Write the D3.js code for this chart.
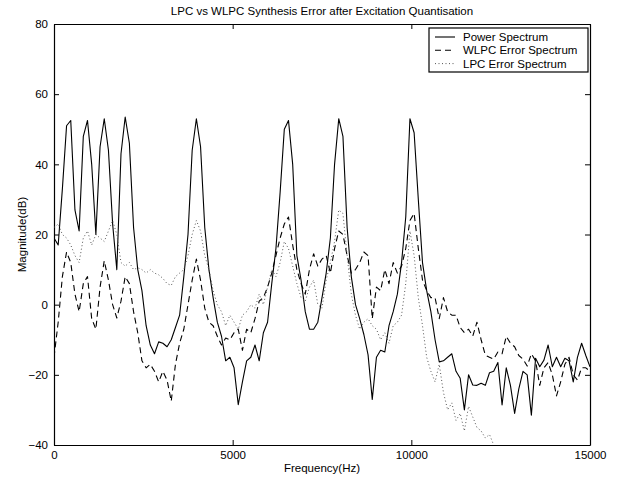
<!DOCTYPE html>
<html>
<head>
<meta charset="utf-8">
<script src="https://cdn.jsdelivr.net/npm/d3@7"></script>
<style>
  html, body { margin: 0; padding: 0; background: #fff; overflow: hidden; }
  svg { display: block; }
  text { font-family: "Liberation Sans", Arial, sans-serif; }
</style>
</head>
<body>
<div id="chart"></div>
<script>
// FFT bins, 0 .. 15000 Hz
const binCount = 129;
const freqStep = 15000 / 128;

// magnitudes in dB, one per bin
const powerSpectrum = [
  19, 17, 33, 51, 52.5, 27, 21, 48, 52.5, 40,
  20, 45, 53, 44, 23, 10, 43, 53.5, 46, 22,
  10, 4, -6, -11.5, -14, -10.6, -11, -12, -10, -6.5,
  -3, 8, 20, 44, 53, 45, 22, 10, 2, -5,
  -9, -16, -15, -18, -28.5, -22, -16, -15, -11.5, -16,
  -8, -5, 6, 16, 32, 50, 52.5, 40, 14, 7,
  -2, -7, -7, -5, 2, 9, 19, 40, 53, 48,
  22, 8, 0, -4, -8.5, -14.3, -27, -15, -13, -13.5,
  -6, -2, 3, 12, 25, 53, 49, 30, 12, 4,
  -2, -10, -16.3, -16, -15, -14, -19, -21, -30, -20,
  -22.9, -23, -22.4, -23, -19.4, -19, -16.5, -28.6, -18, -23,
  -31, -24, -19, -20, -31.5, -15.3, -17.7, -15.8, -11.5, -17.7,
  -15, -17.7, -15.3, -16, -22, -15, -11, -14.5, -17.7
];

const wlpcError = [
  -15, -5, 8, 15, 12, 3, -2, 6, 8, -4,
  -7, 5, 12.5, 7, 0, -3.8, 1, 8, 6, -2,
  -8, -16, -18, -17, -19, -22, -19, -21.5, -27.5, -17,
  -11, -7, 0, 7, 13, 7, -1, -5, -6, -9,
  -11.5, -9.5, -10, -8, -7, -13, -7, -8, -4, 1,
  2, 5, 9, 14, 19, 23, 25, 17, 10, 6,
  3, 10, 14.5, 11, 13, 14, 9, 16, 21, 20,
  14, 9, 10, 12, 15, 14, -4, 5, 4, 10,
  6, 12, 9, 11, 16, 24, 26, 16, 7, 4,
  2, 2, -4, 2, -2, -3, -3, -6.5, -8, -7,
  -9, -5, -10, -14.4, -15, -15.5, -13.5, -14, -9, -11,
  -12, -14.5, -15.5, -17.5, -14, -16, -23, -18, -16.5, -20,
  -26, -22, -17, -15, -20, -21.5, -18, -18, -19
];

// LPC error runs off the bottom of the axes after ~12.4 kHz
const lpcError = [
  22, 23, 20, 19, 17, 14, 12, 19, 21, 17,
  20, 19, 18, 21, 24, 20, 12, 11, 12, 10,
  10.5, 10, 9, 10, 9, 8.5, 7.5, 6, 5.5, 8,
  9, 10, 14, 20, 24, 21, 14, 10, 4, 0,
  -2, -6, -3, -5, -7, -3, -2, 0, -1, 3,
  0, 5, 10, 8, 12, 18, 16, 11, 6, 2,
  1, 5, 7, 0, -1, 7, 12, 18, 27, 26,
  14, 3, -3, -7, -5, -4, -6, -7, -10, -8,
  -11, -6, -5, -3, 6, 21, 14, 2, -6, -15,
  -19, -22, -17, -25, -30, -28, -33, -31, -36, -29,
  -32, -35, -36, -38, -37, -40, -42
];

const xTicks = [0, 5000, 10000, 15000];
const yTicks = [-40, -20, 0, 20, 40, 60, 80];
const seriesNames = ['Power Spectrum', 'WLPC Error Spectrum', 'LPC Error Spectrum'];

const width = 618, height = 482;
const margin = {top: 24, right: 28, bottom: 37, left: 54};
const innerWidth = width - margin.left - margin.right,
      innerHeight = height - margin.top - margin.bottom;

const freq = d3.range(binCount).map(i => i * freqStep);

const x = d3.scaleLinear().domain([0, 15000]).range([0, innerWidth]);
const y = d3.scaleLinear().domain([-40, 80]).range([innerHeight, 0]);

const svg = d3.select('#chart').append('svg')
  .attr('width', width)
  .attr('height', height);

const g = svg.append('g')
  .attr('transform', `translate(${margin.left},${margin.top})`);

g.append('clipPath').attr('id', 'clip')
  .append('rect').attr('width', innerWidth).attr('height', innerHeight);

// box axes, ticks pointing in (matlab style)
const fontSize = '11.5px';
const styleAxis = sel => {
  sel.select('.domain').attr('stroke', '#000').attr('stroke-width', 1.2);
  sel.selectAll('.tick line').attr('stroke', '#000');
  sel.selectAll('.tick text').attr('fill', '#000').style('font-size', fontSize);
};

g.append('g')
  .attr('transform', `translate(0,${innerHeight})`)
  .call(d3.axisBottom(x).tickValues(xTicks).tickSizeInner(-5).tickSizeOuter(0).tickPadding(6).tickFormat(d3.format('d')))
  .call(styleAxis);

g.append('g')
  .call(d3.axisTop(x).tickValues(xTicks).tickSizeInner(-5).tickSizeOuter(0).tickFormat(''))
  .call(styleAxis);

g.append('g')
  .call(d3.axisLeft(y).tickValues(yTicks).tickSizeInner(-5).tickSizeOuter(0).tickPadding(6))
  .call(styleAxis);

g.append('g')
  .attr('transform', `translate(${innerWidth},0)`)
  .call(d3.axisRight(y).tickValues(yTicks).tickSizeInner(-5).tickSizeOuter(0).tickFormat(''))
  .call(styleAxis);

// series
const line = d3.line()
  .x((d, i) => x(freq[i]))
  .y(d => y(d));

const series = [
  {values: powerSpectrum, stroke: '#000', dash: null, width: 1.1},
  {values: wlpcError, stroke: '#000', dash: '6,4', width: 1.1},
  {values: lpcError, stroke: '#555', dash: '1,2.5', width: 1}
];

const plot = g.append('g').attr('clip-path', 'url(#clip)');

plot.selectAll('path.series')
  .data(series)
  .enter()
  .append('path')
  .attr('class', 'series')
  .attr('fill', 'none')
  .attr('stroke', d => d.stroke)
  .attr('stroke-width', d => d.width)
  .attr('stroke-dasharray', d => d.dash)
  .attr('stroke-linejoin', 'round')
  .attr('d', d => line(d.values));

// legend
const legend = g.append('g')
  .attr('transform', `translate(${x(15000) - 161},4)`);

legend.append('rect')
  .attr('width', 159).attr('height', 44)
  .attr('fill', '#fff')
  .attr('stroke', '#000')
  .attr('stroke-width', 1.2);

const rows = legend.selectAll('g.row')
  .data(series)
  .enter()
  .append('g')
  .attr('transform', (d, i) => `translate(0,${9 + i * 13.3})`);

rows.append('line')
  .attr('x1', 6).attr('x2', 26)
  .attr('stroke', d => d.stroke)
  .attr('stroke-width', d => d.width)
  .attr('stroke-dasharray', d => d.dash);

rows.append('text')
  .attr('x', 34).attr('y', 4)
  .style('font-size', fontSize)
  .text((d, i) => seriesNames[i]);

// titles
svg.append('text')
  .attr('x', margin.left + innerWidth / 2)
  .attr('y', 15)
  .attr('text-anchor', 'middle')
  .style('font-size', fontSize)
  .text('LPC vs WLPC Synthesis Error after Excitation Quantisation');

svg.append('text')
  .attr('x', margin.left + innerWidth / 2)
  .attr('y', 472)
  .attr('text-anchor', 'middle')
  .style('font-size', fontSize)
  .text('Frequency(Hz)');

svg.append('text')
  .attr('transform', `translate(26,${margin.top + innerHeight / 2}) rotate(-90)`)
  .attr('text-anchor', 'middle')
  .style('font-size', fontSize)
  .text('Magnitude(dB)');
</script>
</body>
</html>
